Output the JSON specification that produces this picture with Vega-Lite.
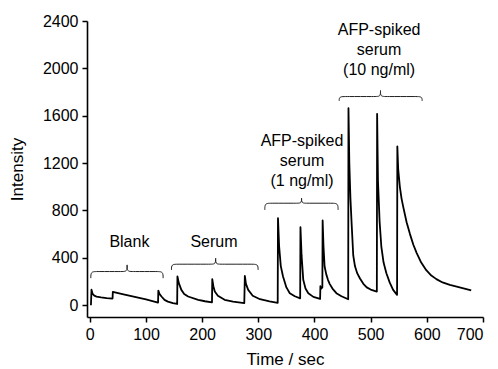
{
  "$schema": "https://vega.github.io/schema/vega-lite/v6.json",
  "autosize": "none",
  "width": 396,
  "height": 296,
  "padding": {"left": 87, "top": 21, "right": 15, "bottom": 52},
  "background": "white",
  "config": {
    "view": {"stroke": null},
    "font": "Liberation Sans",
    "axis": {
      "grid": false,
      "domainColor": "black",
      "domainWidth": 1.6,
      "tickColor": "black",
      "tickWidth": 1.5,
      "labelColor": "black",
      "labelFont": "Liberation Sans",
      "labelFontSize": 16,
      "titleFont": "Liberation Sans",
      "titleFontSize": 17,
      "titleFontWeight": "normal",
      "titleColor": "black"
    }
  },
  "datasets": {
    "signal": [
      {"t": 2, "v": 0}, {"t": 3, "v": 130}, {"t": 5, "v": 95}, {"t": 8, "v": 80}, {"t": 12, "v": 72}, {"t": 20, "v": 66}, {"t": 30, "v": 60}, {"t": 40.5, "v": 56},
      {"t": 41, "v": 112}, {"t": 60, "v": 92}, {"t": 80, "v": 70}, {"t": 100, "v": 48}, {"t": 121.5, "v": 22},
      {"t": 122, "v": 123}, {"t": 124, "v": 95}, {"t": 127.6, "v": 73}, {"t": 133, "v": 45}, {"t": 139, "v": 30}, {"t": 148, "v": 17}, {"t": 155.5, "v": 10},
      {"t": 156, "v": 242}, {"t": 158.5, "v": 186}, {"t": 163, "v": 129}, {"t": 168, "v": 95}, {"t": 175, "v": 73}, {"t": 193, "v": 45}, {"t": 205, "v": 33}, {"t": 217.5, "v": 24},
      {"t": 218, "v": 220}, {"t": 220, "v": 160}, {"t": 222.5, "v": 115}, {"t": 228, "v": 80}, {"t": 240, "v": 45}, {"t": 255, "v": 30}, {"t": 275, "v": 17},
      {"t": 276, "v": 247}, {"t": 278, "v": 180}, {"t": 282, "v": 129}, {"t": 290, "v": 80}, {"t": 303, "v": 50}, {"t": 320, "v": 32}, {"t": 334.5, "v": 20},
      {"t": 335, "v": 735}, {"t": 337, "v": 500}, {"t": 340, "v": 330}, {"t": 344, "v": 242}, {"t": 350, "v": 150}, {"t": 356, "v": 101}, {"t": 365, "v": 75}, {"t": 374.5, "v": 58},
      {"t": 375, "v": 659}, {"t": 377, "v": 420}, {"t": 380, "v": 214}, {"t": 384, "v": 140}, {"t": 389, "v": 101}, {"t": 398, "v": 70}, {"t": 410, "v": 53},
      {"t": 410.5, "v": 160}, {"t": 412, "v": 140}, {"t": 414, "v": 150},
      {"t": 414.5, "v": 715}, {"t": 416, "v": 500}, {"t": 418, "v": 326}, {"t": 421, "v": 260}, {"t": 424, "v": 214}, {"t": 427, "v": 180}, {"t": 432, "v": 140}, {"t": 439, "v": 101}, {"t": 448, "v": 75}, {"t": 460, "v": 50},
      {"t": 460.5, "v": 1664}, {"t": 462, "v": 1200}, {"t": 464, "v": 900}, {"t": 466, "v": 700}, {"t": 469, "v": 420}, {"t": 472, "v": 330}, {"t": 476, "v": 270}, {"t": 481, "v": 225}, {"t": 487, "v": 180}, {"t": 493, "v": 150}, {"t": 500, "v": 132}, {"t": 511, "v": 115},
      {"t": 511.5, "v": 1616}, {"t": 513, "v": 1050}, {"t": 516, "v": 700}, {"t": 519, "v": 495}, {"t": 523, "v": 360}, {"t": 528, "v": 270}, {"t": 534, "v": 190}, {"t": 540, "v": 129}, {"t": 547, "v": 87},
      {"t": 547.5, "v": 1340}, {"t": 549, "v": 1150}, {"t": 552, "v": 1000}, {"t": 555, "v": 900}, {"t": 558, "v": 830}, {"t": 564, "v": 700}, {"t": 570, "v": 600}, {"t": 576, "v": 510}, {"t": 582, "v": 440}, {"t": 590, "v": 360}, {"t": 599, "v": 295}, {"t": 608, "v": 250}, {"t": 617, "v": 220}, {"t": 628, "v": 192}, {"t": 641, "v": 171}, {"t": 655, "v": 155}, {"t": 667, "v": 140}, {"t": 679, "v": 125}
    ],
    "braces": [
      {"id": "a", "i": 0, "x": 1.8, "y": 228}, {"id": "a", "i": 1, "x": 1.8, "y": 284}, {"id": "a", "i": 2, "x": 12, "y": 284}, {"id": "a", "i": 3, "x": 58, "y": 284}, {"id": "a", "i": 4, "x": 66.4, "y": 284}, {"id": "a", "i": 5, "x": 66.4, "y": 340}, {"id": "a", "i": 6, "x": 66.4, "y": 340}, {"id": "a", "i": 7, "x": 66.4, "y": 340}, {"id": "a", "i": 8, "x": 66.4, "y": 284}, {"id": "a", "i": 9, "x": 75, "y": 284}, {"id": "a", "i": 10, "x": 120, "y": 284}, {"id": "a", "i": 11, "x": 130.5, "y": 284}, {"id": "a", "i": 12, "x": 130.5, "y": 228},
      {"id": "b", "i": 0, "x": 145.4, "y": 298}, {"id": "b", "i": 1, "x": 145.4, "y": 346}, {"id": "b", "i": 2, "x": 156, "y": 346}, {"id": "b", "i": 3, "x": 216, "y": 346}, {"id": "b", "i": 4, "x": 224, "y": 346}, {"id": "b", "i": 5, "x": 224, "y": 397}, {"id": "b", "i": 6, "x": 224, "y": 397}, {"id": "b", "i": 7, "x": 224, "y": 397}, {"id": "b", "i": 8, "x": 224, "y": 346}, {"id": "b", "i": 9, "x": 232, "y": 346}, {"id": "b", "i": 10, "x": 289, "y": 346}, {"id": "b", "i": 11, "x": 299.6, "y": 346}, {"id": "b", "i": 12, "x": 299.6, "y": 298},
      {"id": "c", "i": 0, "x": 311.6, "y": 805}, {"id": "c", "i": 1, "x": 311.6, "y": 861}, {"id": "c", "i": 2, "x": 322, "y": 861}, {"id": "c", "i": 3, "x": 369, "y": 861}, {"id": "c", "i": 4, "x": 377, "y": 861}, {"id": "c", "i": 5, "x": 377, "y": 904}, {"id": "c", "i": 6, "x": 377, "y": 904}, {"id": "c", "i": 7, "x": 377, "y": 904}, {"id": "c", "i": 8, "x": 377, "y": 861}, {"id": "c", "i": 9, "x": 385, "y": 861}, {"id": "c", "i": 10, "x": 431, "y": 861}, {"id": "c", "i": 11, "x": 442, "y": 861}, {"id": "c", "i": 12, "x": 442, "y": 805},
      {"id": "d", "i": 0, "x": 444, "y": 1725}, {"id": "d", "i": 1, "x": 444, "y": 1762}, {"id": "d", "i": 2, "x": 455, "y": 1762}, {"id": "d", "i": 3, "x": 509, "y": 1762}, {"id": "d", "i": 4, "x": 517.5, "y": 1762}, {"id": "d", "i": 5, "x": 517.5, "y": 1813}, {"id": "d", "i": 6, "x": 517.5, "y": 1813}, {"id": "d", "i": 7, "x": 517.5, "y": 1813}, {"id": "d", "i": 8, "x": 517.5, "y": 1762}, {"id": "d", "i": 9, "x": 526, "y": 1762}, {"id": "d", "i": 10, "x": 581, "y": 1762}, {"id": "d", "i": 11, "x": 591.6, "y": 1762}, {"id": "d", "i": 12, "x": 591.6, "y": 1725}
    ],
    "labels": [
      {"x": 70.5, "y": 535, "text": "Blank"},
      {"x": 221, "y": 535, "text": "Serum"},
      {"x": 377.8, "y": 1384, "text": "AFP-spiked\nserum\n(1 ng/ml)"},
      {"x": 515, "y": 2322, "text": "AFP-spiked\nserum\n(10 ng/ml)"}
    ]
  },
  "layer": [
    {
      "data": {"name": "braces"},
      "mark": {"type": "line", "interpolate": "basis", "color": "#222222", "strokeWidth": 1},
      "encoding": {
        "x": {"field": "x", "type": "quantitative", "scale": {"domain": [-5, 700], "nice": false, "zero": false}},
        "y": {"field": "y", "type": "quantitative", "scale": {"domain": [-100, 2400], "nice": false, "zero": false}},
        "detail": {"field": "id"},
        "order": {"field": "i"}
      }
    },
    {
      "data": {"name": "signal"},
      "mark": {"type": "line", "color": "black", "strokeWidth": 1.8, "strokeJoin": "round"},
      "encoding": {
        "x": {
          "field": "t", "type": "quantitative",
          "scale": {"domain": [-5, 700], "nice": false, "zero": false},
          "axis": {
            "title": "Time / sec",
            "values": [0, 50, 100, 150, 200, 250, 300, 350, 400, 450, 500, 550, 600, 650, 700],
            "format": "d",
            "labelExpr": "datum.value % 100 === 0 ? datum.label : ''",
            "tickSize": {"condition": {"test": "datum.value % 100 === 0", "value": 5}, "value": 3},
            "labelPadding": 4,
            "titlePadding": 9
          }
        },
        "y": {
          "field": "v", "type": "quantitative",
          "scale": {"domain": [-100, 2400], "nice": false, "zero": false},
          "axis": {
            "title": "Intensity",
            "values": [0, 200, 400, 600, 800, 1000, 1200, 1400, 1600, 1800, 2000, 2200, 2400],
            "format": "d",
            "labelExpr": "datum.value % 400 === 0 ? datum.label : ''",
            "tickSize": {"condition": {"test": "datum.value % 400 === 0", "value": 5}, "value": 3},
            "labelPadding": 4,
            "titlePadding": 16
          }
        },
        "order": {"field": "t"}
      }
    },
    {
      "data": {"name": "labels"},
      "mark": {"type": "text", "font": "Liberation Sans", "fontSize": 16, "color": "black", "align": "center", "baseline": "middle", "lineBreak": "\n", "lineHeight": 20},
      "encoding": {
        "x": {"field": "x", "type": "quantitative"},
        "y": {"field": "y", "type": "quantitative"},
        "text": {"field": "text"}
      }
    }
  ]
}
